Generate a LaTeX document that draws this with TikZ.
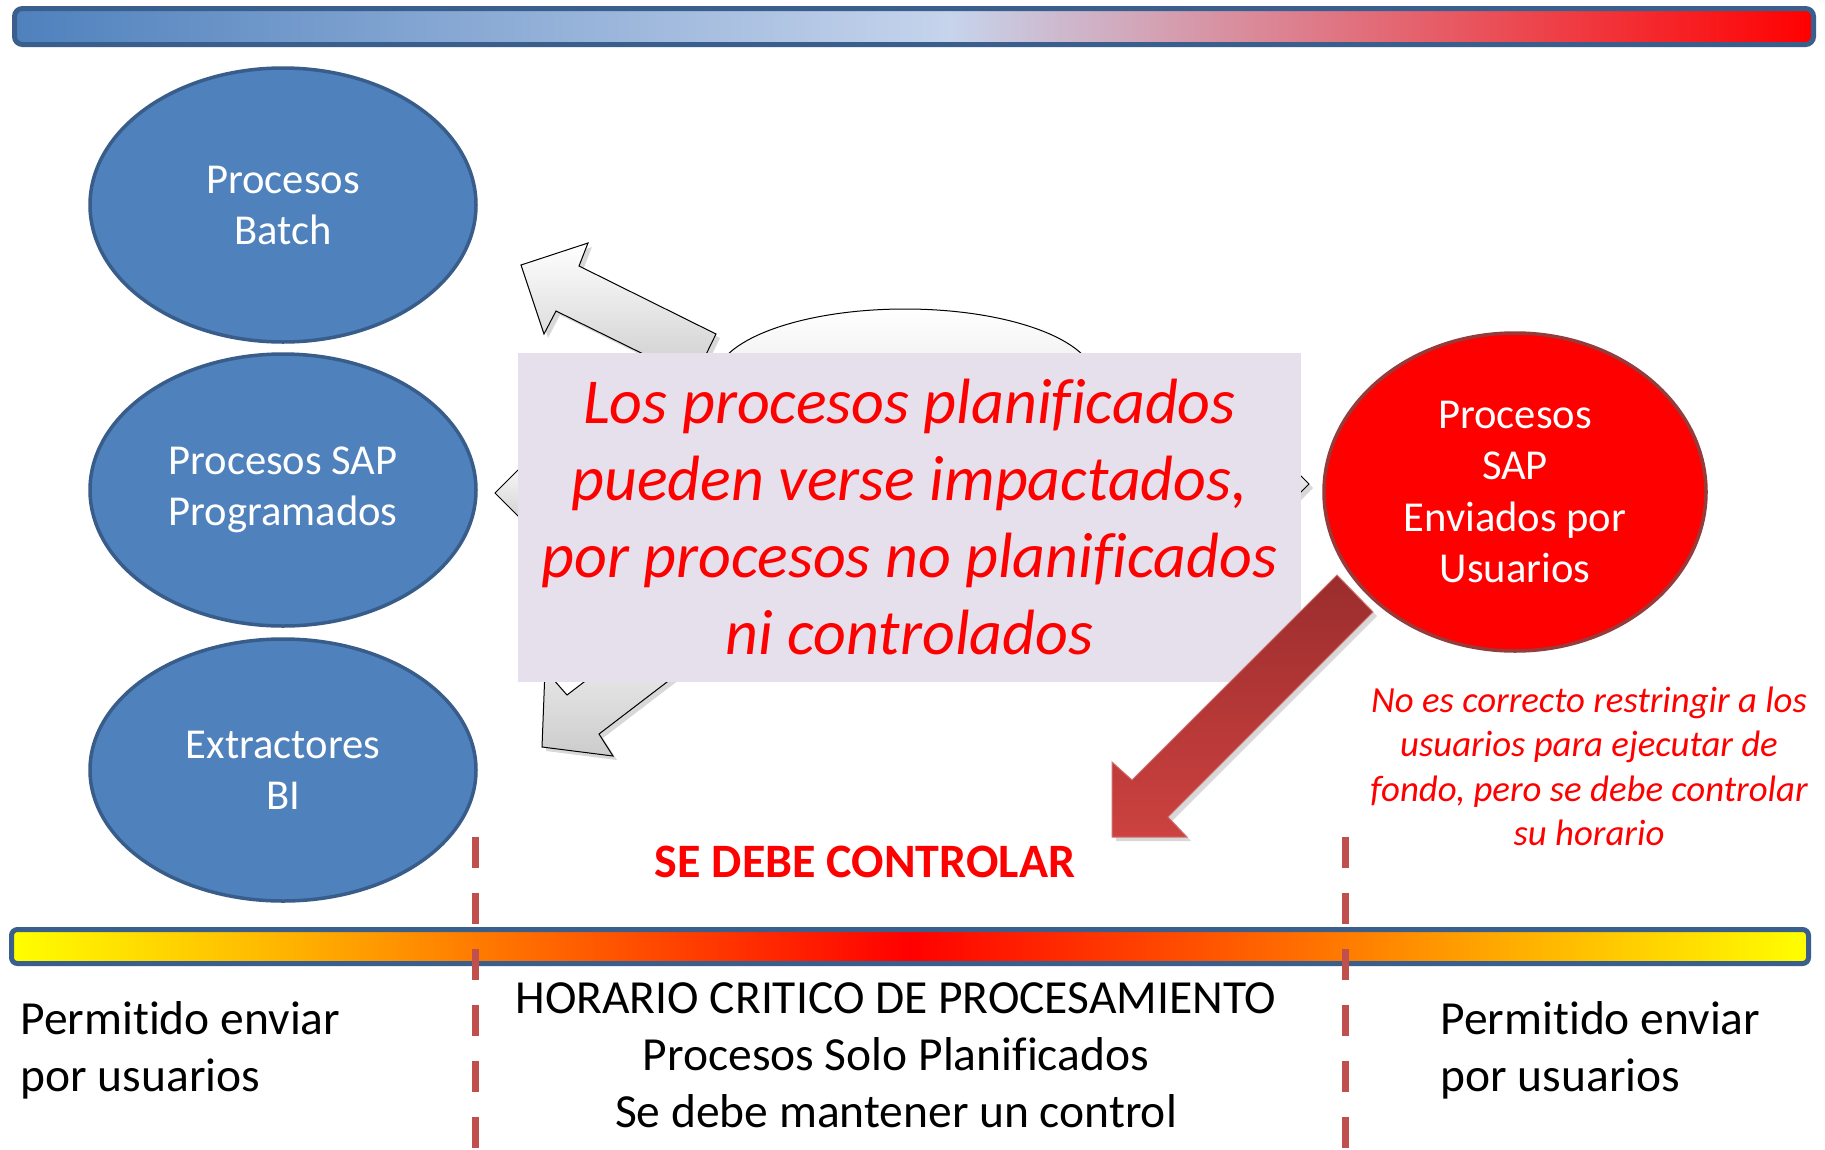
\documentclass[tikz,border=0pt]{standalone}
\usepackage{fontspec}
\setmainfont{Carlito}[Ligatures=NoCommon]
\usetikzlibrary{shapes.geometric,shadows}
\definecolor{ellblue}{RGB}{79,129,189}
\definecolor{ellborder}{RGB}{56,93,138}
\definecolor{barborder}{RGB}{58,95,140}
\definecolor{boxfill}{RGB}{229,224,236}
\definecolor{dashred}{RGB}{192,80,77}
\definecolor{redborder}{RGB}{150,58,58}
\definecolor{tbblue}{RGB}{79,129,189}
\definecolor{tblight}{RGB}{198,212,236}
\definecolor{tbred}{RGB}{255,0,0}
\definecolor{hyel}{RGB}{255,255,0}
\definecolor{hamb}{RGB}{255,176,0}
\definecolor{hora}{RGB}{255,122,0}
\definecolor{hred}{RGB}{255,0,0}
\definecolor{arrdark}{RGB}{155,45,45}
\definecolor{arrlight}{RGB}{204,66,64}
\pgfdeclarehorizontalshading{topbarshade}{100bp}{color(0bp)=(tbblue); color(25bp)=(tbblue); color(51bp)=(tblight); color(75bp)=(tbred); color(100bp)=(tbred)}
\pgfdeclarehorizontalshading{heatshade}{100bp}{color(0bp)=(hyel); color(25bp)=(hyel); color(33bp)=(hamb); color(38bp)=(hora); color(50bp)=(hred); color(62bp)=(hora); color(67bp)=(hamb); color(75bp)=(hyel); color(100bp)=(hyel)}
\tikzset{
  blueell/.style={ellipse, fill=ellblue, draw=ellborder, line width=3.5pt, inner sep=0pt, text=white, align=center, font=\fontsize{42.6}{51}\selectfont},
  greyarrow/.style={draw=black, line width=1pt, top color=white, bottom color=black!20, drop shadow={opacity=0.3, shadow xshift=4pt, shadow yshift=-4pt}},
  redarrow/.style={draw=dashred!80!white, line width=1pt, top color=arrdark, bottom color=arrlight, drop shadow={opacity=0.3, shadow xshift=4pt, shadow yshift=-4pt}},
  dashline/.style={draw=dashred, line width=7pt, dash pattern=on 31pt off 25pt},
  bartext/.style={font=\fontsize{47.5}{57}\selectfont, text=black},
}
\begin{document}
\begin{tikzpicture}[x=1pt, y=-1pt]
\useasboundingbox (0,0) rectangle (1825,1149);
\fill[white] (0,0) rectangle (1825,1149);

% top bar
\node[draw=barborder, line width=5pt, rounded corners=8pt, shade, shading=topbarshade, minimum width=1799pt, minimum height=36pt, inner sep=0pt] (topbar) at (914,26.5) {};

% grey hub and arrows behind the message box
\node[ellipse, draw=black, line width=1pt, top color=white, bottom color=black!14, minimum width=380pt, minimum height=142pt, inner sep=0pt] (hub) at (905,380) {};
\draw[greyarrow] (521,265) -- (588,243) -- (579,266) -- (716,334) -- (694,379) -- (556,311) -- (544,334) -- cycle;
\draw[greyarrow] (495,493) -- (530,458) -- (600,458) -- (600,528) -- (530,528) -- cycle;
\draw[greyarrow] (542,747) -- (545,670) -- (567,695) -- (703,591) -- (735,630) -- (599,734) -- (613,756) -- cycle;
\draw[greyarrow] (1309,484) -- (1284,459) -- (1250,459) -- (1250,509) -- (1284,509) -- cycle;

% message box
\node[fill=boxfill, minimum width=783pt, minimum height=329pt, inner sep=0pt, text=red, align=center, font=\fontsize{64}{77}\selectfont\itshape] (msg) at (909.5,517.5) {Los procesos planificados\\pueden verse impactados,\\por procesos no planificados\\ni controlados};

% blue ellipses
\node[blueell, minimum width=386pt, minimum height=274pt] (batch) at (283,205) {Procesos\\Batch};
\node[blueell, minimum width=386pt, minimum height=272pt] (prog) at (283,490) {Procesos SAP\\Programados};
\node[blueell, minimum width=386pt, minimum height=262pt] (bi) at (283,770) {Extractores\\BI};

% red ellipse
\node[ellipse, fill=red, draw=redborder, line width=3.5pt, inner sep=0pt, minimum width=382pt, minimum height=318pt, text=white, align=center, font=\fontsize{42.6}{51.5}\selectfont] (usr) at (1515,492) {Procesos\\SAP\\Enviados por\\Usuarios};

% red arrow
\draw[redarrow] (1112,837) -- (1187,837) -- (1168,817) -- (1373,612) -- (1337,575) -- (1132,780) -- (1112,762) -- cycle;

% note
\node[text=red, align=center, font=\fontsize{36.8}{44.5}\selectfont\itshape] (note) at (1589,766.5) {No es correcto restringir a los\\usuarios para ejecutar de\\fondo, pero se debe controlar\\su horario};

\node[text=red, font=\fontsize{48}{55}\selectfont\bfseries] (ctrl) at (865,862) {SE DEBE CONTROLAR};

% bottom bar
\node[draw=barborder, line width=5pt, rounded corners=6pt, shade, shading=heatshade, minimum width=1797pt, minimum height=34pt, inner sep=0pt] (heatbar) at (910,946.5) {};

% dashed limits
\coordinate (d1top) at (475,837);
\coordinate (d1bot) at (475,1149);
\coordinate (d2top) at (1345,837);
\coordinate (d2bot) at (1345,1149);
\draw[dashline] (d1top) -- (d1bot);
\draw[dashline] (d2top) -- (d2bot);

% bottom texts
\node[bartext, anchor=west, align=left] (leftt) at (17,1050.5) {Permitido enviar\\por usuarios};
\node[bartext, anchor=west, align=left] (rightt) at (1437,1050.5) {Permitido enviar\\por usuarios};
\node[bartext, align=center] (critt) at (896,1055) {HORARIO CRITICO DE PROCESAMIENTO\\Procesos Solo Planificados\\Se debe mantener un control};
\end{tikzpicture}
\end{document}
